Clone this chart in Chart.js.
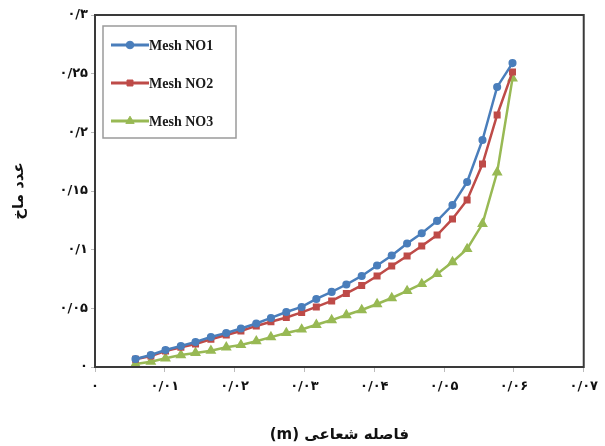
<!DOCTYPE html>
<html>
<head>
<meta charset="utf-8">
<script src="https://cdn.jsdelivr.net/npm/chart.js@4.4.1/dist/chart.umd.min.js"></script>
<style>
  html, body { margin: 0; padding: 0; background: #fff; }
  #wrap { width: 605px; height: 446px; }
</style>
</head>
<body>
<div id="wrap"><canvas id="chart" width="605" height="446"></canvas></div>
<script>
// فاصله شعاعی (m)
var radialDist = [0.0058, 0.0080, 0.0101, 0.0123, 0.0144, 0.0166, 0.0188, 0.0209, 0.0231, 0.0252,
                  0.0274, 0.0296, 0.0317, 0.0339, 0.0360, 0.0382, 0.0404, 0.0425, 0.0447, 0.0468,
                  0.0490, 0.0512, 0.0533, 0.0555, 0.0576, 0.0598];

// عدد ماخ
var mesh1 = [0.0068, 0.0102, 0.0145, 0.0179, 0.0213, 0.0256, 0.0290, 0.0328, 0.0371, 0.0418,
             0.0469, 0.0512, 0.0580, 0.0640, 0.0703, 0.0776, 0.0865, 0.0950, 0.1053, 0.1140,
             0.1245, 0.1380, 0.1577, 0.1935, 0.2387, 0.2590];
var mesh2 = [0.0066, 0.0094, 0.0136, 0.0168, 0.0196, 0.0236, 0.0273, 0.0307, 0.0350, 0.0386,
             0.0422, 0.0465, 0.0512, 0.0563, 0.0627, 0.0695, 0.0776, 0.0861, 0.0946, 0.1032,
             0.1125, 0.1262, 0.1424, 0.1730, 0.2148, 0.2515];
var mesh3 = [0.0025, 0.0045, 0.0074, 0.0102, 0.0120, 0.0139, 0.0168, 0.0188, 0.0220, 0.0255,
             0.0290, 0.0320, 0.0360, 0.0400, 0.0443, 0.0486, 0.0537, 0.0588, 0.0648, 0.0708,
             0.0793, 0.0895, 0.1006, 0.1220, 0.1660, 0.2460];

var seriesNames = ["Mesh NO1", "Mesh NO2", "Mesh NO3"];
var xTickLabels = ["۰", "۰/۰۱", "۰/۰۲", "۰/۰۳", "۰/۰۴", "۰/۰۵", "۰/۰۶", "۰/۰۷"];
var yTickLabels = ["۰", "۰/۰۵", "۰/۱", "۰/۱۵", "۰/۲", "۰/۲۵", "۰/۳"];

function toPoints(ys) {
  return ys.map(function (y, i) { return { x: radialDist[i], y: y }; });
}

// legend box drawn inside the plot + frame round the plot
var frameAndLegend = {
  id: "frameAndLegend",
  afterDatasetsDraw: function (chart) {
    var ctx = chart.ctx;
    var a = chart.chartArea;
    ctx.save();
    ctx.strokeStyle = "#3a3a3a";
    ctx.lineWidth = 2;
    ctx.strokeRect(a.left, a.top, a.right - a.left, a.bottom - a.top);

    // legend
    var bx = 103, by = 26, bw = 133, bh = 112;
    ctx.strokeStyle = "#9a9a9a";
    ctx.lineWidth = 1.5;
    ctx.fillStyle = "#fff";
    ctx.fillRect(bx, by, bw, bh);
    ctx.strokeRect(bx, by, bw, bh);
    ctx.font = "bold 14px 'Liberation Serif'";
    ctx.textBaseline = "middle";
    chart.data.datasets.forEach(function (ds, i) {
      var cy = by + 19 + i * 38;
      ctx.strokeStyle = ds.borderColor;
      ctx.lineWidth = 3;
      ctx.beginPath();
      ctx.moveTo(bx + 8, cy);
      ctx.lineTo(bx + 46, cy);
      ctx.stroke();
      ctx.fillStyle = ds.borderColor;
      ctx.lineWidth = 1;
      Chart.helpers.drawPoint(ctx, {
        pointStyle: ds.pointStyle, radius: ds.pointRadius + 1, rotation: 0, borderWidth: 1
      }, bx + 27, cy);
      ctx.fillStyle = "#1a1a1a";
      ctx.fillText(ds.label, bx + 46, cy + 1);
    });
    ctx.restore();
  }
};

var ctx = document.getElementById("chart");
var chart = new Chart(ctx, {
  type: "line",
  data: {
    datasets: [{
      label: seriesNames[0],
      data: toPoints(mesh1),
      borderColor: "#4A7EBB",
      backgroundColor: "#4A7EBB",
      pointStyle: "circle",
      pointRadius: 2.8,
      borderWidth: 2.5
    }, {
      label: seriesNames[1],
      data: toPoints(mesh2),
      borderColor: "#BE4B48",
      backgroundColor: "#BE4B48",
      pointStyle: "rect",
      pointRadius: 3.2,
      borderWidth: 2.5
    }, {
      label: seriesNames[2],
      data: toPoints(mesh3),
      borderColor: "#98B954",
      backgroundColor: "#98B954",
      pointStyle: "triangle",
      pointRadius: 3.8,
      borderWidth: 2.5
    }]
  },
  options: {
    responsive: false,
    animation: false,
    layout: { padding: { left: 10, top: 15, right: 14, bottom: 2 } },
    plugins: {
      legend: { display: false },
      tooltip: { enabled: false }
    },
    elements: { line: { tension: 0 } },
    scales: {
      x: {
        type: "linear",
        min: 0,
        max: 0.07,
        grid: { display: true, drawOnChartArea: false, color: "#bbbbbb", tickLength: 5 },
        border: { display: false },
        ticks: {
          stepSize: 0.01,
          autoSkip: false,
          maxRotation: 0,
          padding: 7,
          color: "#111",
          font: { family: "DejaVu Sans", size: 13, weight: "bold" },
          callback: function (v) { return xTickLabels[Math.round(v / 0.01)]; }
        },
        title: {
          display: true,
          text: "\u202Bفاصله شعاعی (m)\u202C",
          color: "#111",
          font: { family: "DejaVu Sans", size: 15, weight: "bold" },
          padding: { top: 18, bottom: 0 }
        },
        afterFit: function (s) { s.height = 77; }
      },
      y: {
        min: 0,
        max: 0.3,
        grid: { display: true, drawOnChartArea: false, color: "#bbbbbb", tickLength: 4 },
        border: { display: false },
        ticks: {
          stepSize: 0.05,
          padding: 3,
          color: "#111",
          font: { family: "DejaVu Sans", size: 13, weight: "bold" },
          callback: function (v) { return yTickLabels[Math.round(v / 0.05)]; }
        },
        title: {
          display: true,
          text: "عدد ماخ",
          color: "#111",
          font: { family: "DejaVu Sans", size: 15, weight: "bold" },
          padding: { top: 0, bottom: 0 }
        },
        afterFit: function (s) { s.width = 85; }
      }
    }
  },
  plugins: [frameAndLegend]
});
</script>
</body>
</html>
